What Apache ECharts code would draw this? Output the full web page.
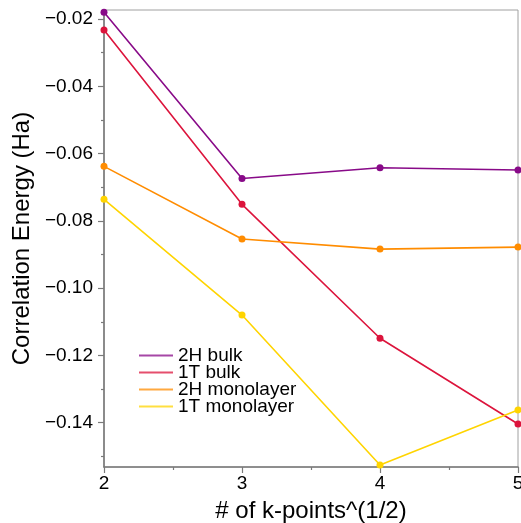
<!DOCTYPE html>
<html>
<head>
<meta charset="utf-8">
<script src="https://cdn.jsdelivr.net/npm/echarts@6/dist/echarts.min.js"></script>
<style>html,body{margin:0;padding:0;background:#fff}#c{width:521px;height:523px}</style>
</head>
<body>
<div id="c"></div>
<script>
var kPoints = [2, 3, 4, 5];
var seriesNames = ['2H bulk', '1T bulk', '2H monolayer', '1T monolayer'];
var h2Bulk = [-0.0180, -0.0674, -0.0642, -0.0649];
var t1Bulk = [-0.0233, -0.0751, -0.1149, -0.1404];
var h2Mono = [-0.0638, -0.0854, -0.0884, -0.0878];
var t1Mono = [-0.0736, -0.1080, -0.1526, -0.1362];
var yMajorTicks = [-0.14, -0.12, -0.10, -0.08, -0.06, -0.04, -0.02];
var yMinorTicks = [-0.15, -0.13, -0.11, -0.09, -0.07, -0.05, -0.03];
var xTicks = [2, 3, 4, 5];

var colors = ['#880a88', '#dc143c', '#ff8c00', '#ffd400'];
var allValues = [h2Bulk, t1Bulk, h2Mono, t1Mono];
var Y_MIN = -0.15317, Y_MAX = -0.01733;
var FONT = 'Liberation Sans, Arial, sans-serif';

var chart = echarts.init(document.getElementById('c'));
var series = seriesNames.map(function (n, i) {
  return {
    name: n, type: 'line', yAxisIndex: 0,
    data: kPoints.map(function (x, j) { return [x, allValues[i][j]]; }),
    symbol: 'circle', symbolSize: 7, clip: false,
    lineStyle: { color: colors[i], width: 1.6 },
    itemStyle: { color: colors[i] },
    emphasis: { disabled: true }
  };
});

chart.setOption({
  animation: false,
  color: colors,
  grid: { left: 104, right: 3, top: 10, bottom: 56, show: true, borderColor: '#a0a0a0', borderWidth: 1,
    containLabel: false, outerBoundsMode: 'none' },
  legend: {
    data: seriesNames, orient: 'vertical', left: 139, top: 346,
    icon: 'rect', itemWidth: 34, itemHeight: 2, itemGap: -2,
    itemStyle: { opacity: 0.75 },
    textStyle: { fontFamily: FONT, fontSize: 19, color: '#000' },
    padding: 0
  },
  xAxis: {
    type: 'value', min: 2, max: 5, interval: 1,
    name: '# of k-points^(1/2)', nameLocation: 'middle', nameGap: 32,
    nameTextStyle: { fontFamily: FONT, fontSize: 24, color: '#000' },
    axisLine: { show: true, lineStyle: { color: '#7a7a7a', width: 1.6 } },
    axisTick: { show: true, inside: false, length: 6, lineStyle: { color: '#7a7a7a', width: 1.2 } },
    minorTick: { show: true, splitNumber: 2, length: 3, lineStyle: { color: '#7a7a7a', width: 1.2 } },
    axisLabel: { fontFamily: FONT, fontSize: 19, color: '#000', margin: 7,
      customValues: xTicks, formatter: function (v) { return String(v); } },
    splitLine: { show: false }, minorSplitLine: { show: false }
  },
  yAxis: [{
    type: 'value', min: Y_MIN, max: Y_MAX, position: 'left',
    name: 'Correlation Energy (Ha)', nameLocation: 'middle', nameGap: 70,
    nameTextStyle: { fontFamily: FONT, fontSize: 24, color: '#000' },
    axisLine: { show: true, lineStyle: { color: '#7a7a7a', width: 1.6 } },
    axisTick: { show: true, inside: false, length: 6, customValues: yMajorTicks, lineStyle: { color: '#7a7a7a', width: 1.2 } },
    axisLabel: { fontFamily: FONT, fontSize: 19, color: '#000', margin: 11, customValues: yMajorTicks,
      formatter: function (v) { return v.toFixed(2).replace('-', '\u2212'); } },
    splitLine: { show: false }
  }, {
    type: 'value', min: Y_MIN, max: Y_MAX, position: 'left', offset: 0,
    axisLine: { show: false },
    axisTick: { show: true, inside: false, length: 3, customValues: yMinorTicks, lineStyle: { color: '#7a7a7a', width: 1.2 } },
    axisLabel: { show: false },
    splitLine: { show: false }
  }],
  series: series
});
</script>
</body>
</html>
